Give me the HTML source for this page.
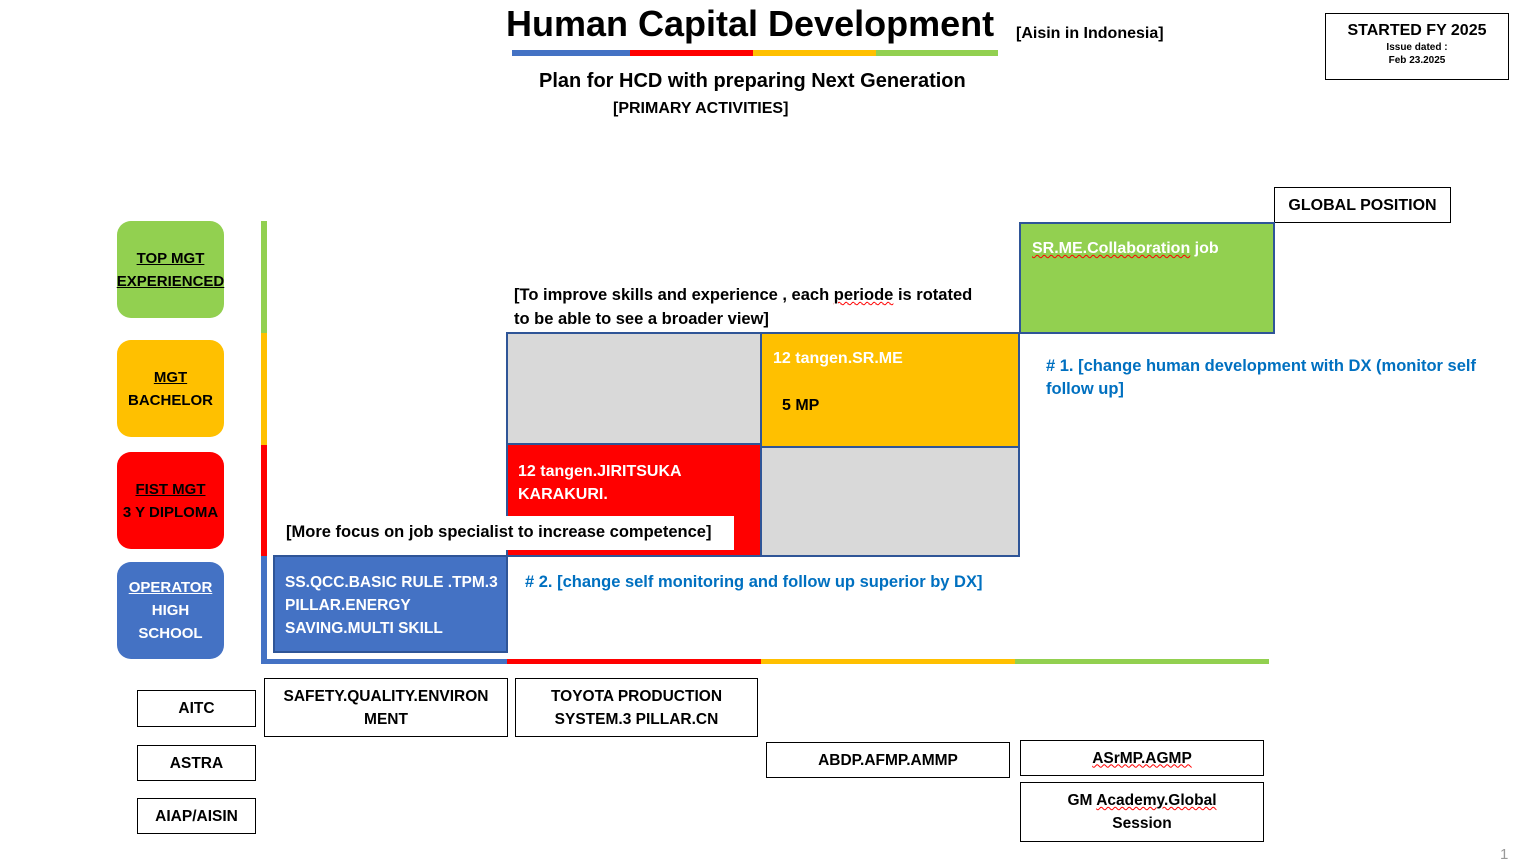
<!DOCTYPE html>
<html><head><meta charset="utf-8"><style>
body{margin:0;width:1522px;height:863px;position:relative;background:#fff;font-family:"Liberation Sans",Arial,sans-serif;font-weight:bold;overflow:hidden}
.a{position:absolute;box-sizing:border-box}
.t{position:absolute;white-space:nowrap}
.rb{position:absolute;border-radius:14px;display:flex;flex-direction:column;align-items:center;justify-content:center;font-size:15px;line-height:23px;text-align:center}
.bx{position:absolute;box-sizing:border-box;border:1px solid #000;display:flex;align-items:center;justify-content:center;text-align:center;font-size:15.5px;line-height:23px}
.u{text-decoration:underline}
.w{text-decoration:underline wavy red;text-decoration-thickness:1px}
</style></head><body>
<div class="t" style="left:506px;top:3px;font-size:36px;letter-spacing:0px">Human Capital Development</div>
<div class="t" style="left:1016px;top:25px;font-size:16px">[Aisin in Indonesia]</div>
<div class="a" style="left:512px;top:50px;width:118px;height:6px;background:#4472C4"></div>
<div class="a" style="left:630px;top:50px;width:123px;height:6px;background:#FF0000"></div>
<div class="a" style="left:753px;top:50px;width:123px;height:6px;background:#FFC000"></div>
<div class="a" style="left:876px;top:50px;width:122px;height:6px;background:#92D050"></div>
<div class="t" style="left:539px;top:70px;font-size:20px">Plan for HCD with preparing Next Generation</div>
<div class="t" style="left:613px;top:100px;font-size:16px">[PRIMARY ACTIVITIES]</div>

<div class="a" style="left:1325px;top:13px;width:184px;height:67px;border:1px solid #000;text-align:center">
<div style="font-size:16px;margin-top:8px">STARTED FY 2025</div>
<div style="font-size:10px;margin-top:2px">Issue dated :</div>
<div style="font-size:10px;margin-top:2px">Feb 23.2025</div></div>
<div class="bx" style="left:1274px;top:187px;width:177px;height:36px;font-size:16px">GLOBAL POSITION</div>

<div class="rb" style="left:117px;top:221px;width:107px;height:97px;background:#92D050"><span class="u">TOP MGT</span><span class="u">EXPERIENCED</span></div>
<div class="rb" style="left:117px;top:340px;width:107px;height:97px;background:#FFC000"><span class="u">MGT</span><span>BACHELOR</span></div>
<div class="rb" style="left:117px;top:452px;width:107px;height:97px;background:#FF0000"><span class="u">FIST MGT</span><span>3 Y DIPLOMA</span></div>
<div class="rb" style="left:117px;top:562px;width:107px;height:97px;background:#4472C4;color:#fff"><span class="u">OPERATOR</span><span>HIGH</span><span>SCHOOL</span></div>

<div class="a" style="left:261px;top:221px;width:6px;height:112px;background:#92D050"></div>
<div class="a" style="left:261px;top:333px;width:6px;height:112px;background:#FFC000"></div>
<div class="a" style="left:261px;top:445px;width:6px;height:111px;background:#FF0000"></div>
<div class="a" style="left:261px;top:556px;width:6px;height:108px;background:#4472C4"></div>
<div class="a" style="left:261px;top:659px;width:246px;height:5px;background:#4472C4"></div>
<div class="a" style="left:507px;top:659px;width:254px;height:5px;background:#FF0000"></div>
<div class="a" style="left:761px;top:659px;width:254px;height:5px;background:#FFC000"></div>
<div class="a" style="left:1015px;top:659px;width:254px;height:5px;background:#92D050"></div>

<div class="a" style="left:506px;top:332px;width:256px;height:113px;background:#D9D9D9;border:2px solid #2F5597"></div>
<div class="a" style="left:760px;top:446px;width:260px;height:111px;background:#D9D9D9;border:2px solid #2F5597"></div>
<div class="a" style="left:760px;top:332px;width:260px;height:116px;background:#FFC000;border:2px solid #2F5597"></div>
<div class="a" style="left:506px;top:443px;width:256px;height:114px;background:#FF0000;border:2px solid #2F5597"></div>
<div class="a" style="left:1019px;top:222px;width:256px;height:112px;background:#92D050;border:2px solid #2F5597"></div>
<div class="a" style="left:273px;top:555px;width:235px;height:98px;background:#4472C4;border:2px solid #2F5597"></div>

<div class="t" style="left:1032px;top:240px;font-size:16px;color:#fff"><span class="w">SR.ME.Collaboration</span> job</div>
<div class="t" style="left:773px;top:350px;font-size:16px;color:#fff">12 tangen.SR.ME</div>
<div class="t" style="left:782px;top:397px;font-size:16px;color:#000">5 MP</div>
<div class="t" style="left:518px;top:460px;font-size:16px;color:#fff;line-height:23px">12 <span class="w">tangen.JIRITSUKA</span><br>KARAKURI.</div>
<div class="t" style="left:285px;top:571px;font-size:15.5px;color:#fff;line-height:23px">SS.QCC.BASIC RULE .TPM.3<br>PILLAR.ENERGY<br>SAVING.MULTI SKILL</div>
<div class="a" style="left:278px;top:516px;width:456px;height:34px;background:#fff"></div>
<div class="t" style="left:286px;top:523px;font-size:16.5px">[More focus on job specialist to increase competence]</div>
<div class="t" style="left:514px;top:283px;font-size:16.5px;line-height:24px">[To improve skills and experience , each <span class="w">periode</span> is rotated<br>to be able to see a broader view]</div>
<div class="t" style="left:1046px;top:355px;font-size:16.5px;line-height:23px;color:#0070C0"># 1. [change human development with DX (monitor self<br>follow up]</div>
<div class="t" style="left:525px;top:573px;font-size:16.5px;color:#0070C0"># 2. [change self monitoring and follow up superior by DX]</div>

<div class="bx" style="left:137px;top:690px;width:119px;height:37px">AITC</div>
<div class="bx" style="left:137px;top:745px;width:119px;height:36px">ASTRA</div>
<div class="bx" style="left:137px;top:798px;width:119px;height:36px">AIAP/AISIN</div>
<div class="bx" style="left:264px;top:678px;width:244px;height:59px"><div>SAFETY.QUALITY.ENVIRON<br>MENT</div></div>
<div class="bx" style="left:515px;top:678px;width:243px;height:59px"><div>TOYOTA PRODUCTION<br>SYSTEM.3 PILLAR.CN</div></div>
<div class="bx" style="left:766px;top:742px;width:244px;height:36px">ABDP.AFMP.AMMP</div>
<div class="bx" style="left:1020px;top:740px;width:244px;height:36px"><div><span class="w">ASrMP.AGMP</span></div></div>
<div class="bx" style="left:1020px;top:782px;width:244px;height:60px"><div>GM <span class="w">Academy.Global</span><br>Session</div></div>
<div class="t" style="left:1500px;top:846px;font-size:15px;font-weight:normal;color:#999">1</div>
</body></html>
